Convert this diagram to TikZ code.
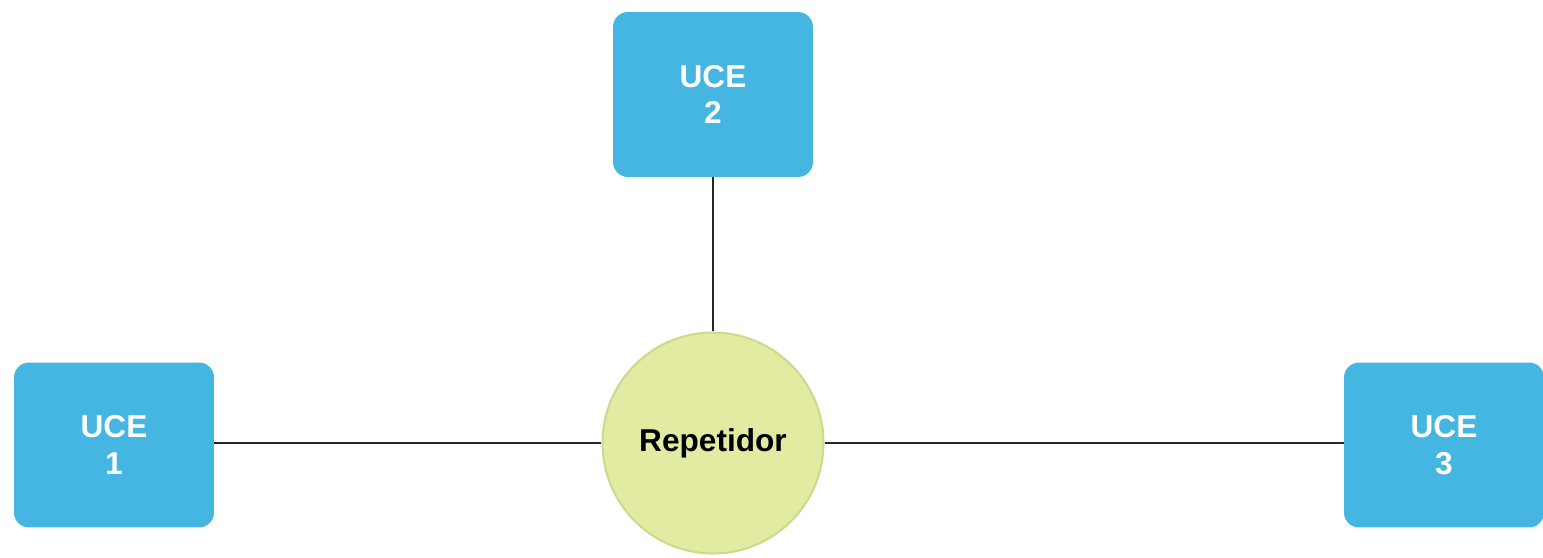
\documentclass[tikz,border=0pt]{standalone}
\usepackage{fontspec}
\setmainfont{Liberation Sans}
\usetikzlibrary{positioning}

\definecolor{ucebox}{HTML}{45B5E2}
\definecolor{repfill}{HTML}{E3EBA2}
\definecolor{repdraw}{HTML}{C9DC8E}

\begin{document}
\begin{tikzpicture}[x=0.02cm, y=-0.02cm]
		% styles for the units and the repeater
		\tikzset{
			uce/.style={
				fill=ucebox, draw=none, rounded corners=0.3cm,
				minimum width=4cm, minimum height=3.3cm,
				text=white, align=center,
				font=\fontsize{18}{21}\selectfont\bfseries
			},
			repeater/.style={
				circle, fill=repfill, draw=repdraw, line width=1.2pt,
				minimum size=4.42cm, inner sep=0pt,
				font=\fontsize{18}{21}\selectfont\bfseries
			},
			link/.style={draw=black!85, line width=0.7pt}
		}

		% picture frame
		\useasboundingbox (0,0) rectangle (1543,558);

		% repeater in the middle
		\node[repeater] (rep) at (713,443) {Repetidor};

		% the three units
		\node[uce] (uce2) at (713,94.5) {UCE\\2};
		\node[uce] (uce1) at (114,445) {UCE\\1};
		\node[uce] (uce3) at (1444,445) {UCE\\3};

		% links to the repeater
		\draw[link] (uce2.south) -- (rep.north);
		\draw[link] (uce1.east |- rep) -- (rep.west);
		\draw[link] (rep.east) -- (uce3.west |- rep);
	\end{tikzpicture}
\end{document}
